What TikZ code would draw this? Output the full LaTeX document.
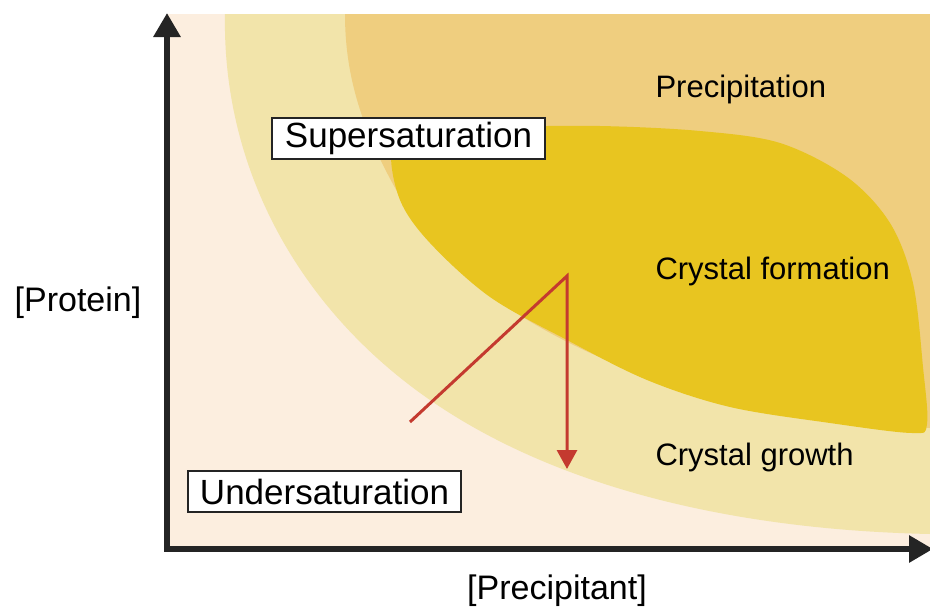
\documentclass[tikz,border=0pt]{standalone}
\usepackage{fontspec}
\setmainfont{Liberation Sans}
\usetikzlibrary{arrows.meta}

\definecolor{undersat}{HTML}{FCEEDF}
\definecolor{growth}{HTML}{F2E4AA}
\definecolor{precip}{HTML}{EFCE7F}
\definecolor{formation}{HTML}{E8C520}
\definecolor{axisgray}{HTML}{242424}
\definecolor{pathred}{HTML}{C43A2F}

\tikzset{
  axis/.style={draw=axisgray, line width=6.5pt},
  region/.style={anchor=base west, font=\fontsize{31}{36}\selectfont},
  phasebox/.style={draw=axisgray, fill=white, line width=1.5pt,
    minimum width=273pt, minimum height=41pt, inner sep=0pt,
    font=\fontsize{35}{40}\selectfont},
  axislabel/.style={anchor=base, font=\fontsize{34}{40}\selectfont},
  route/.style={draw=pathred, line width=3pt}
}

\begin{document}
\begin{tikzpicture}[x=1pt, y=-1pt]
  \useasboundingbox (0,0) rectangle (930,608);

  \coordinate (origin) at (167, 549);
  \coordinate (ytip) at (167, 13);
  \coordinate (xtip) at (933, 549);

  % phase regions
  \fill[undersat] (167,14) rectangle (930,549);
  \fill[growth] (225,14) .. controls (222,170) and (300,310) .. (430,400)
    .. controls (560,490) and (740,530) .. (930,534) -- (930,14) -- cycle;
  \fill[precip] (345,14) .. controls (345,90) and (370,150) .. (420,230)
    .. controls (520,350) and (720,420) .. (930,428) -- (930,14) -- cycle;
  \fill[formation] plot[smooth cycle, tension=0.55] coordinates {
    (392,150) (400,200) (430,243) (490,297) (567,340) (647,380)
    (730,407) (830,423) (912,433) (927,424) (923,367) (913,283)
    (890,223) (847,177) (780,143) (700,131) (600,126) (500,127) (420,131)};

  % axes
  \draw[axis, {Triangle[length=24pt, width=26pt]}-{Triangle[length=24pt, width=26pt]}]
    (ytip) -- (origin) -- (xtip);

  \node[axislabel] (protein) at (78, 311) {[Protein]};
  \node[axislabel] (precipitant) at (557, 599) {[Precipitant]};

  \node[region] (precipitation) at (652, 97) {Precipitation};
  \node[region] (crystalform) at (652, 279) {Crystal formation};
  \node[region] (crystalgrow) at (652, 465) {Crystal growth};

  \node[phasebox] (supersat) at (408.5, 138.5) {Supersaturation};
  \node[phasebox] (undersat) at (324.5, 491.5) {Undersaturation};

  % experiment path
  \coordinate (start) at (410, 422);
  \coordinate (apex) at (567, 276);
  \coordinate (stop) at (567, 469);
  \draw[route, -{Triangle[length=19pt, width=20pt]}] (start) -- (apex) -- (stop);
\end{tikzpicture}
\end{document}
